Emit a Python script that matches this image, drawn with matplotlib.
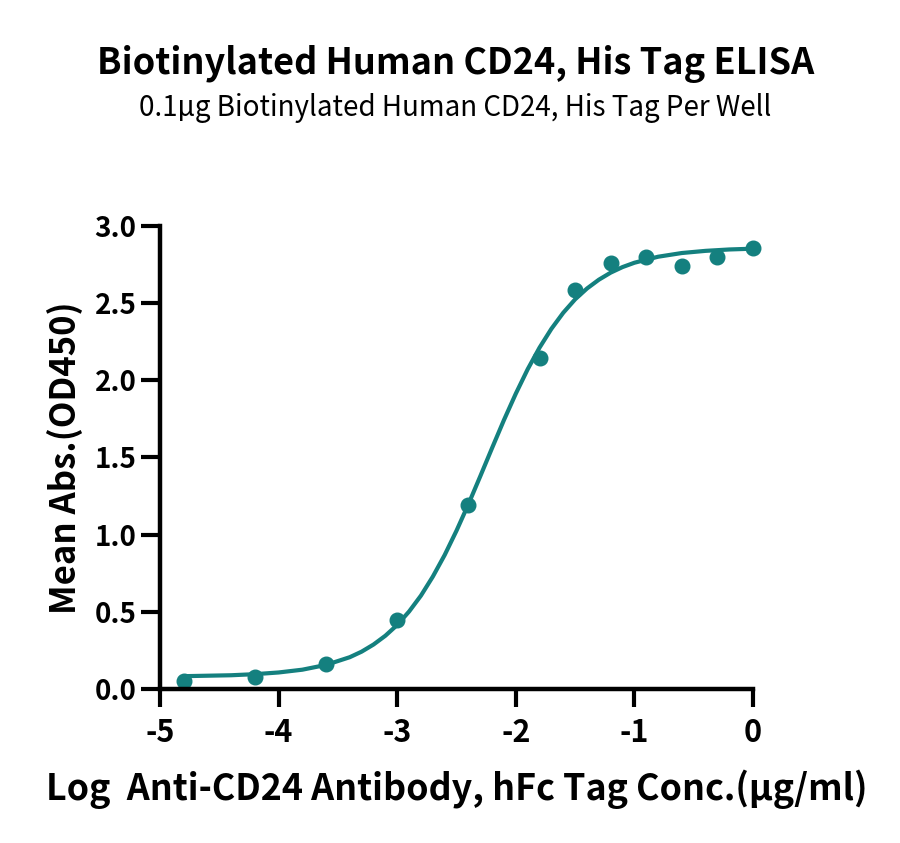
import matplotlib
matplotlib.use("Agg")
import matplotlib.pyplot as plt

plt.rcParams["font.family"] = ["Noto Sans CJK SC", "DejaVu Sans"]

# measured points (log conc vs mean OD450)
log_conc = [-4.8, -4.2, -3.6, -3.0, -2.4, -1.8, -1.5, -1.2, -0.9, -0.6, -0.3, 0.0]
mean_abs = [0.05, 0.08, 0.16, 0.445, 1.19, 2.146, 2.585, 2.763, 2.80, 2.738, 2.796, 2.86]

# fitted curve
fit_x = [-4.8, -4.6, -4.4, -4.2, -4.0, -3.8, -3.6, -3.4, -3.3, -3.2, -3.1, -3.0,
         -2.9, -2.8, -2.7, -2.6, -2.5, -2.4, -2.3, -2.2, -2.1, -2.0, -1.9, -1.8,
         -1.7, -1.6, -1.5, -1.4, -1.3, -1.2, -1.1, -1.0, -0.8, -0.6, -0.4, -0.2, 0.0]
fit_y = [0.083, 0.086, 0.089, 0.096, 0.107, 0.125, 0.156, 0.206, 0.242, 0.288, 0.345, 0.415,
         0.502, 0.605, 0.728, 0.868, 1.026, 1.197, 1.378, 1.562, 1.743, 1.914, 2.072, 2.212,
         2.334, 2.438, 2.525, 2.595, 2.652, 2.698, 2.734, 2.762, 2.801, 2.825, 2.839, 2.848, 2.853]

x_ticks = [-5, -4, -3, -2, -1, 0]
y_ticks = [0.0, 0.5, 1.0, 1.5, 2.0, 2.5, 3.0]

color = "#14807F"

fig = plt.figure(figsize=(9, 8.43), dpi=100)
ax = fig.add_axes([0.1778, 0.1827, 0.6589, 0.5492])

ax.plot(fit_x, fit_y, color=color, linewidth=3, solid_capstyle="round", clip_on=False)
ax.plot(log_conc, mean_abs, "o", color=color, markersize=10.5, clip_on=False)

ax.set_xlim(-5, 0)
ax.set_ylim(0, 3)
ax.set_xticks(x_ticks)
ax.set_xticklabels([str(t) for t in x_ticks])
ax.set_yticks(y_ticks)
ax.set_yticklabels([f"{t:.1f}" for t in y_ticks])

for s in ["top", "right"]:
    ax.spines[s].set_visible(False)
for s in ["left", "bottom"]:
    ax.spines[s].set_linewidth(3.2)
ax.tick_params(width=3, length=14)
ax.tick_params(axis="x", labelsize=22, pad=7, length=13)
ax.tick_params(axis="y", labelsize=20, pad=3)
for lab in ax.get_xticklabels() + ax.get_yticklabels():
    lab.set_fontweight("bold")

ax.set_xlabel("Log  Anti-CD24 Antibody, hFc Tag Conc.(\u00b5g/ml)",
              fontsize=25.8, fontweight="bold", labelpad=15)
ax.set_ylabel("Mean Abs.(OD450)", fontsize=25, fontweight="bold", labelpad=8)

fig.text(0.506, 0.924, "Biotinylated Human CD24, His Tag ELISA",
         ha="center", va="center", fontsize=26, fontweight="bold")
fig.text(0.506, 0.872, "0.1\u00b5g Biotinylated Human CD24, His Tag Per Well",
         ha="center", va="center", fontsize=20)

fig.savefig("out.png", dpi=100)
